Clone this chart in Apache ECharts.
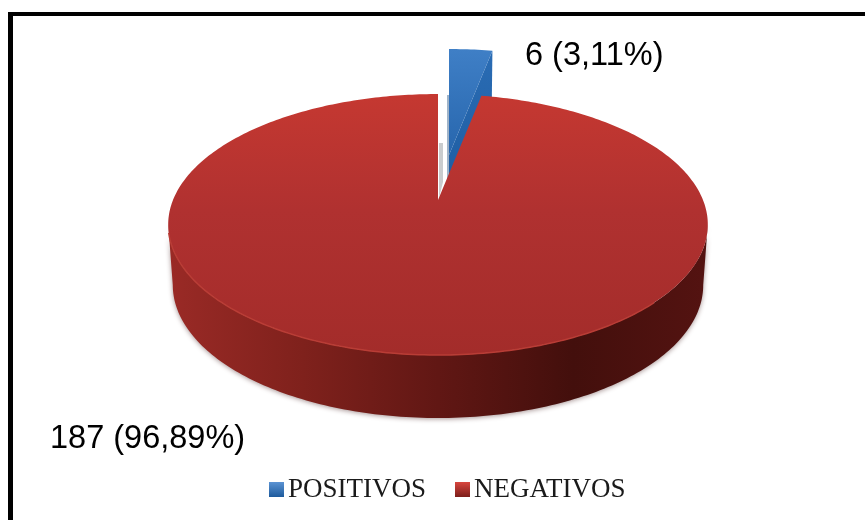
<!DOCTYPE html>
<html>
<head>
<meta charset="utf-8">
<style>html,body{margin:0;padding:0;background:#fff}#chart{width:865px;height:520px}</style>
<script src="https://cdn.jsdelivr.net/npm/echarts@6/dist/echarts.min.js"></script>
</head>
<body>
<div id="chart"></div>
<script>
// Resultados da pesquisa: casos positivos e negativos
const categories = ['POSITIVOS', 'NEGATIVOS'];
const counts = [6, 187];
const percentLabels = ['3,11%', '96,89%'];

const total = counts.reduce((a, b) => a + b, 0);

// Perspective disc: unit circle (u, v) projected to the screen, v toward the viewer
const topDisc = { x: 438, y: 200, a: 265, b: 125.9, k: 0.188 };
const baseDisc = { x: 438, y: 260, a: 260.5, b: 128.3, k: 0.188 };
const explode = { dx: 11, dy: -45 };

function project(d, angle, off) {
  const u = Math.sin(angle), v = -Math.cos(angle);
  const w = 1 - d.k * v;
  return [d.x + d.a * u / w + (off ? off.dx : 0), d.y + d.b * v / w + (off ? off.dy : 0)];
}
function arc(d, from, to, off) {
  const n = Math.max(2, Math.ceil(Math.abs(to - from) * 60));
  const pts = [];
  for (let i = 0; i <= n; i++) pts.push(project(d, from + (to - from) * i / n, off));
  return pts;
}
function vGrad(stops) {
  return { type: 'linear', x: 0, y: 0, x2: 0, y2: 1, colorStops: stops.map(s => ({ offset: s[0], color: s[1] })) };
}
function hGrad(stops) {
  return { type: 'linear', x: 0, y: 0, x2: 1, y2: 0, colorStops: stops.map(s => ({ offset: s[0], color: s[1] })) };
}
function poly(points, style) {
  return { type: 'polygon', shape: { points }, style };
}

// Angle at which a category's slice starts and ends, clockwise from 12 o'clock
function sliceAngles(index) {
  const before = counts.slice(0, index).reduce((a, b) => a + b, 0);
  return [before / total * Math.PI * 2, (before + counts[index]) / total * Math.PI * 2];
}

function renderPositive(params, api) {
  const [a0, a1] = sliceAngles(0);
  api.value(0);
  const apexTop = [topDisc.x + explode.dx, topDisc.y + explode.dy];
  const apexBase = [baseDisc.x + explode.dx, baseDisc.y + explode.dy];
  const rimTop = arc(topDisc, a0, a1, explode);
  const rimEndTop = rimTop[rimTop.length - 1];
  const rimEndBase = project(baseDisc, a1, explode);
  return {
    type: 'group',
    children: [
      // shaded sliver beside the pulled-out slice
      poly([[apexTop[0] - 2, rimTop[0][1] + 46], [apexTop[0], rimTop[0][1] + 46], [apexTop[0], apexBase[1]], [apexTop[0] - 2, apexBase[1]]],
        { fill: '#9fb3c8' }),
      poly([apexTop, rimEndTop, rimEndBase, apexBase], { fill: vGrad([[0, '#2a6cb4'], [1, '#1c5a9e']]) }),
      poly([apexTop].concat(rimTop), { fill: vGrad([[0, '#3f7fc6'], [1, '#2766ad']]) }),
      {
        type: 'text',
        style: {
          x: 525, y: 56, text: counts[0] + ' (' + percentLabels[0] + ')',
          fill: '#000', font: '32.5px "Liberation Sans"', textAlign: 'left', textVerticalAlign: 'middle'
        }
      }
    ]
  };
}

function renderNegative(params, api) {
  const [a0, a1] = sliceAngles(1);
  api.value(0);
  // front wall runs between the widest points of the two discs
  const widest = Math.acos(-topDisc.k);
  const frontTop = arc(topDisc, widest, Math.PI * 2 - widest);
  const frontBase = arc(baseDisc, widest, Math.PI * 2 - widest).reverse();
  const surface = [[topDisc.x, topDisc.y]].concat(arc(topDisc, a0, a1));
  return {
    type: 'group',
    children: [
      // soft shade seen through the gap left by the pulled-out slice
      poly([[topDisc.x + 1, topDisc.y - 57], [topDisc.x + 5, topDisc.y - 57], [topDisc.x + 5, topDisc.y - 18], [topDisc.x + 1, topDisc.y - 2]],
        { fill: '#c9ccce' }),
      poly(frontTop.concat(frontBase), {
        fill: hGrad([[0, '#9a2a26'], [0.25, '#7f211c'], [0.5, '#611714'], [0.75, '#430f0c'], [1, '#541311']]),
        shadowBlur: 5, shadowColor: 'rgba(60,20,20,0.45)', shadowOffsetY: 1
      }),
      poly(surface, { fill: vGrad([[0, '#c53831'], [0.45, '#b03130'], [1, '#a32c2a']]) }),
      {
        type: 'polyline',
        shape: { points: arc(topDisc, Math.PI * 0.75, Math.PI * 1.42) },
        style: { stroke: '#b93d36', lineWidth: 1.5, fill: null }
      },
      {
        type: 'text',
        style: {
          x: 50, y: 439, text: counts[1] + ' (' + percentLabels[1] + ')',
          fill: '#000', font: '32.5px "Liberation Sans"', textAlign: 'left', textVerticalAlign: 'middle'
        }
      }
    ]
  };
}

const chart = echarts.init(document.getElementById('chart'), null, { renderer: 'canvas' });
chart.setOption({
  animation: false,
  backgroundColor: '#fff',
  legend: {
    left: 264, top: 471, itemWidth: 15, itemHeight: 15, itemGap: 29,
    textStyle: { fontFamily: '"Liberation Serif"', fontSize: 27, color: '#1a1a1a', padding: [0, 0, 0, -1] },
    data: [
      { name: categories[0], icon: 'rect', itemStyle: { color: vGrad([[0, '#5b93d3'], [1, '#1d5a9c']]) } },
      { name: categories[1], icon: 'rect', itemStyle: { color: vGrad([[0, '#d8463e'], [1, '#7c1e1b']]) } }
    ]
  },
  // frame: only the top and left edges are drawn
  graphic: [
    { type: 'rect', silent: true, shape: { x: 8, y: 12, width: 857, height: 4 }, style: { fill: '#000' } },
    { type: 'rect', silent: true, shape: { x: 8, y: 12, width: 5, height: 508 }, style: { fill: '#000' } }
  ],
  series: [
    { type: 'custom', name: categories[0], coordinateSystem: 'none', silent: true, data: [[counts[0]]], renderItem: renderPositive, itemStyle: { color: '#2f6fb8' } },
    { type: 'custom', name: categories[1], coordinateSystem: 'none', silent: true, data: [[counts[1]]], renderItem: renderNegative, itemStyle: { color: '#b3322f' } }
  ]
});
</script>
</body>
</html>
